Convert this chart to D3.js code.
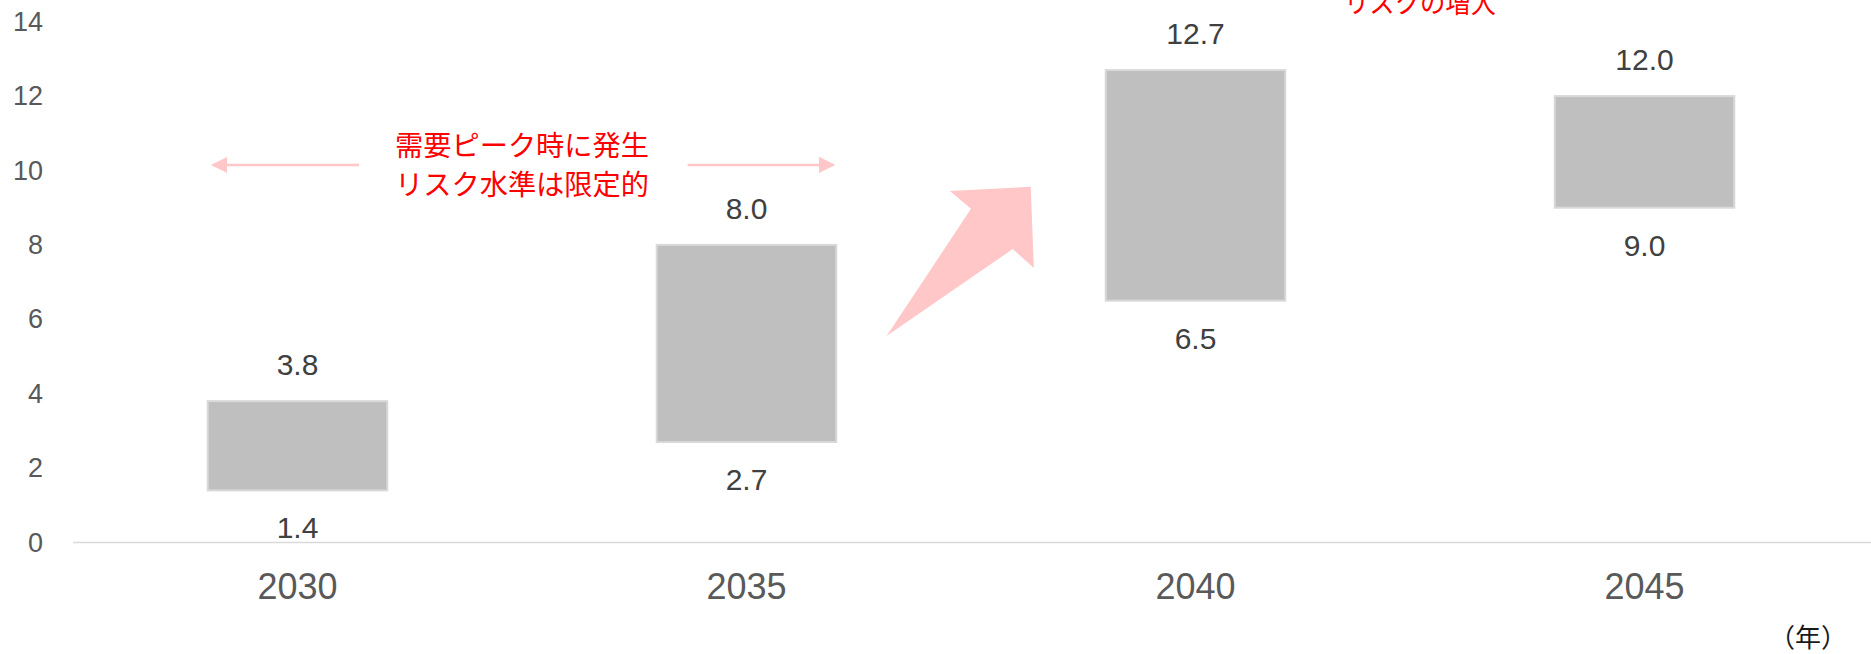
<!DOCTYPE html>
<html>
<head>
<meta charset="utf-8">
<script src="https://cdn.jsdelivr.net/npm/d3@7"></script>
<style>
  html, body { margin: 0; padding: 0; background: #fff; }
  svg { display: block; }
</style>
</head>
<body>
<div id="chart"></div>
<script>
// data
var years = ['2030', '2035', '2040', '2045'];
var lowValues = [1.4, 2.7, 6.5, 9.0];
var highValues = [3.8, 8.0, 12.7, 12.0];
var yTicks = [0, 2, 4, 6, 8, 10, 12, 14];

// annotations, x in category index (0 = 2030), y in chart units
var noteLeftLines = ['需要ピーク時に発生', 'リスク水準は限定的'];
var noteTopText = 'リスクの増大';
var bigArrow = [[1.312, 5.55], [1.500, 8.97], [1.453, 9.45], [1.633, 9.56], [1.640, 7.38], [1.593, 7.89]];

var width = 1871, height = 654;
var margin = { top: 21.7, right: 2, bottom: 111.5, left: 73 };

var svg = d3.select('#chart').append('svg')
  .attr('width', width)
  .attr('height', height);

var x = d3.scaleBand()
  .domain(years)
  .range([margin.left, width - margin.right])
  .padding(0);

var y = d3.scaleLinear()
  .domain([0, 14])
  .range([height - margin.bottom, margin.top]);

var barW = x.bandwidth() * 0.4;
function cx(i) { return x(years[0]) + x.bandwidth() / 2 + i * x.step(); }

var rows = years.map(function (d, i) {
  return { year: d, low: lowValues[i], high: highValues[i] };
});

// y axis labels only
var yAxis = svg.append('g')
  .attr('transform', 'translate(43,0)')
  .call(d3.axisLeft(y).tickValues(yTicks).tickSize(0).tickPadding(0).tickFormat(d3.format('d')));
yAxis.select('.domain').remove();
yAxis.selectAll('text')
  .attr('fill', '#595959')
  .style('font-family', '"Liberation Sans", Arial, sans-serif')
  .style('font-size', '27px');

// x axis
var xAxis = svg.append('g')
  .attr('transform', 'translate(0,' + y(0) + ')')
  .call(d3.axisBottom(x).tickSize(0).tickPadding(31));
xAxis.select('.domain')
  .attr('stroke', '#d9d9d9')
  .attr('stroke-width', 1.5)
  .attr('d', 'M' + margin.left + ',0H' + width);
xAxis.selectAll('text')
  .attr('fill', '#595959')
  .style('font-family', '"Liberation Sans", Arial, sans-serif')
  .style('font-size', '36px');

// floating bars
svg.append('g').selectAll('rect')
  .data(rows)
  .join('rect')
  .attr('x', function (d) { return x(d.year) + (x.bandwidth() - barW) / 2; })
  .attr('y', function (d) { return y(d.high); })
  .attr('width', barW)
  .attr('height', function (d) { return y(d.low) - y(d.high); })
  .attr('fill', '#bfbfbf')
  .attr('stroke', '#d9d9d9')
  .attr('stroke-width', 2);

var labels = svg.append('g')
  .style('font-family', '"Liberation Sans", Arial, sans-serif')
  .style('font-size', '30px')
  .attr('fill', '#404040')
  .attr('text-anchor', 'middle');

labels.selectAll('text.high')
  .data(rows)
  .join('text')
  .attr('class', 'high')
  .attr('x', function (d) { return x(d.year) + x.bandwidth() / 2; })
  .attr('y', function (d) { return y(d.high) - 26; })
  .text(function (d) { return d.high.toFixed(1); });

labels.selectAll('text.low')
  .data(rows)
  .join('text')
  .attr('class', 'low')
  .attr('x', function (d) { return x(d.year) + x.bandwidth() / 2; })
  .attr('y', function (d) { return y(d.low) + 48; })
  .text(function (d) { return d.low.toFixed(1); });

// annotations
var pink = '#ffc7c7';
var defs = svg.append('defs');
defs.append('marker')
  .attr('id', 'head')
  .attr('viewBox', '0 0 10 10')
  .attr('refX', 9).attr('refY', 5)
  .attr('markerWidth', 6.5).attr('markerHeight', 7)
  .attr('markerUnits', 'strokeWidth')
  .attr('orient', 'auto')
  .append('path')
  .attr('d', 'M0,0L10,5L0,10Z')
  .attr('fill', pink);

var arrowY = y(10.15);
[[0.137, -0.189], [0.869, 1.194]].forEach(function (a) {
  svg.append('line')
    .attr('x1', cx(a[0])).attr('y1', arrowY)
    .attr('x2', cx(a[1])).attr('y2', arrowY)
    .attr('stroke', pink)
    .attr('stroke-width', 2.5)
    .attr('marker-end', 'url(#head)');
});

svg.append('polygon')
  .attr('points', bigArrow.map(function (p) { return cx(p[0]) + ',' + y(p[1]); }).join(' '))
  .attr('fill', pink);

var red = svg.append('g')
  .style('font-family', '"Noto Sans CJK JP", sans-serif')
  .style('font-size', '28px')
  .attr('fill', '#ff0000')
  .attr('text-anchor', 'middle');

noteLeftLines.forEach(function (t, i) {
  red.append('text')
    .attr('x', cx(0.5))
    .attr('y', y(10.67) + i * 39.5)
    .attr('dy', '0.36em')
    .attr('textLength', 254)
    .attr('lengthAdjust', 'spacingAndGlyphs')
    .text(t);
});

red.append('text')
  .attr('x', cx(2.5))
  .attr('y', 13)
  .attr('textLength', 152)
  .attr('lengthAdjust', 'spacingAndGlyphs')
  .text(noteTopText);

svg.append('text')
  .attr('x', 1808)
  .attr('y', 647)
  .attr('text-anchor', 'middle')
  .attr('fill', '#1a1a1a')
  .style('font-family', '"Noto Sans CJK JP", sans-serif')
  .style('font-size', '26px')
  .text('（年）');
</script>
</body>
</html>
